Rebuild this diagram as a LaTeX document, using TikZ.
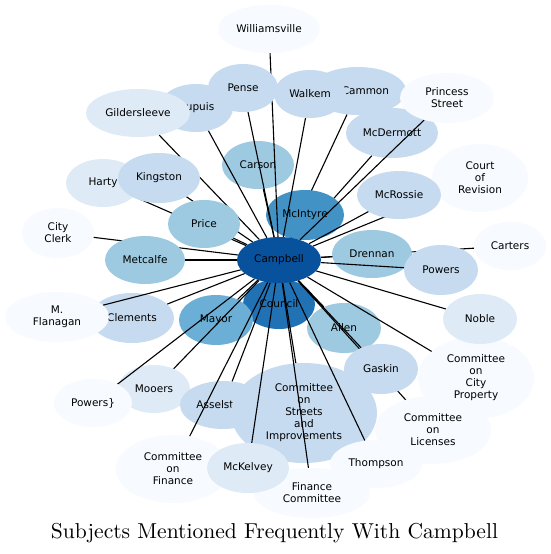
\documentclass[tikz,border=0pt]{standalone}
\usepackage{fontspec}
\usepackage{graphicx}
\usetikzlibrary{shapes.geometric}
\newfontfamily\nodefont{DejaVu Sans}
\definecolor{bA}{HTML}{08519C}
\definecolor{bB}{HTML}{2171B5}
\definecolor{bC}{HTML}{4292C6}
\definecolor{bD}{HTML}{6BAED6}
\definecolor{bE}{HTML}{9ECAE1}
\definecolor{bF}{HTML}{C6DBEF}
\definecolor{bG}{HTML}{DEEBF7}
\definecolor{bH}{HTML}{F7FBFF}
\pgfdeclarelayer{nzero}
\pgfdeclarelayer{ezero}
\pgfdeclarelayer{none}
\pgfdeclarelayer{eone}
\pgfdeclarelayer{ntwo}
\pgfsetlayers{main,nzero,ezero,none,eone,ntwo}
\tikzset{
  bub/.style={ellipse, inner sep=0pt, draw=none, align=center, text=black,
    font=\nodefont\fontsize{10.5}{12}\selectfont},
  sz/.style 2 args={minimum width=#1pt, minimum height=#2pt},
  edge/.style={draw=black, line width=1.1pt}
}
\begin{document}
\begin{tikzpicture}[x=1pt,y=-1pt]
\useasboundingbox (0,0) rectangle (551,554);
\fill[white] (0,0) rectangle (551,554);
% ---------- bottom nodes
\begin{pgfonlayer}{nzero}
\node[bub, fill=bB, sz={72}{50}] (council) at (279,304) {Council};
\node[bub, fill=bD, sz={74}{50}] (mayor) at (216,320) {Mayor};
\node[bub, fill=bE, sz={74}{50}] (allen) at (344,328) {Allen};
\node[bub, fill=bE, sz={72}{48}] (carson) at (258,165) {Carson};
\node[bub, fill=bF, sz={74}{48}] (dupuis) at (196,108) {Dupuis};
\node[bub, fill=bG, sz={104}{48}] (gild) at (138,113) {Gildersleeve};
\node[bub, fill=bF, sz={96}{48}] (mccam) at (358,91) {McCammon};
\node[bub, fill=bF, sz={92}{50}] (mcder) at (392,133) {McDermott};
\node[bub, fill=bG, sz={74}{48}] (harty) at (103,183) {Harty};
\node[bub, fill=bH, sz={72}{50}] (clerk) at (58,233) {City\\Clerk};
\node[bub, fill=bF, sz={84}{50}] (clem) at (132,318) {Clements};
\node[bub, fill=bG, sz={72}{48}] (mooers) at (154,389) {Mooers};
\node[bub, fill=bF, sz={86}{48}] (assel) at (223,405) {Asselstine};
\node[bub, fill=bF, sz={146}{100}] (streets) at (304,413) {Committee\\on\\Streets\\and\\Improvements};
\node[bub, fill=bH, sz={116}{82}] (cityprop) at (476,378) {Committee\\on\\City\\Property};
\node[bub, fill=bH, sz={96}{68}] (revision) at (480,178) {Court\\of\\Revision};
\node[bub, fill=bH, sz={72}{48}] (carters) at (510,246) {Carters};
\node[bub, fill=bH, sz={116}{68}] (licenses) at (433,430) {Committee\\on\\Licenses};
\end{pgfonlayer}
% ---------- middle nodes
\begin{pgfonlayer}{none}
\node[bub, fill=bC, sz={78}{50}] (mcint) at (305,215) {McIntyre};
\node[bub, fill=bF, sz={82}{50}] (kings) at (159,178) {Kingston};
\node[bub, fill=bE, sz={72}{48}] (price) at (204,224) {Price};
\node[bub, fill=bE, sz={80}{48}] (metc) at (145,260) {Metcalfe};
\node[bub, fill=bF, sz={84}{48}] (mcros) at (399,195) {McRossie};
\node[bub, fill=bE, sz={80}{48}] (dren) at (372,254) {Drennan};
\node[bub, fill=bF, sz={74}{50}] (powers) at (441,270) {Powers};
\node[bub, fill=bF, sz={74}{50}] (gaskin) at (381,369) {Gaskin};
\end{pgfonlayer}
% ---------- top nodes
\begin{pgfonlayer}{ntwo}
\node[bub, fill=bH, sz={102}{48}] (will) at (269,29) {Williamsville};
\node[bub, fill=bF, sz={70}{48}] (pense) at (243,88) {Pense};
\node[bub, fill=bF, sz={72}{48}] (walkem) at (310,94) {Walkem};
\node[bub, fill=bH, sz={94}{50}] (princess) at (447,98) {Princess\\Street};
\node[bub, fill=bG, sz={74}{50}] (noble) at (480,319) {Noble};
\node[bub, fill=bH, sz={104}{50}] (flan) at (57,317) {M.\\Flanagan};
\node[bub, fill=bH, sz={78}{48}] (powersb) at (93,403) {Powers\}};
\node[bub, fill=bH, sz={114}{68}] (cofin) at (173,469) {Committee\\on\\Finance};
\node[bub, fill=bH, sz={116}{50}] (fincom) at (312,493) {Finance\\Committee};
\node[bub, fill=bH, sz={92}{48}] (thomp) at (376,464) {Thompson};
\node[bub, fill=bG, sz={82}{50}] (mckel) at (248,468) {McKelvey};
\node[bub, fill=bA, sz={84}{46}] (camp) at (279,260) {Campbell};
\end{pgfonlayer}
% ---------- lower edges
\begin{pgfonlayer}{ezero}
\foreach \t in {mcder,mccam,gild,harty,kings,clerk,revision,carters,licenses}
  \draw[edge] (camp) -- (\t);
\end{pgfonlayer}
% ---------- upper edges
\begin{pgfonlayer}{eone}
\foreach \t in {will,pense,dupuis,carson,walkem,princess,mcint,mcros,dren,powers,noble,cityprop,allen,gaskin,council,mayor,clem,flan,mooers,powersb,assel,streets,mckel,fincom,thomp,cofin,price,metc}
  \draw[edge] (camp) -- (\t);
\end{pgfonlayer}
% ---------- title
\node[anchor=base, inner sep=0pt] (title) at (274.5,538)
  {\resizebox{447pt}{!}{\fontsize{10}{12}\selectfont Subjects Mentioned Frequently With Campbell}};
\end{tikzpicture}
\end{document}
